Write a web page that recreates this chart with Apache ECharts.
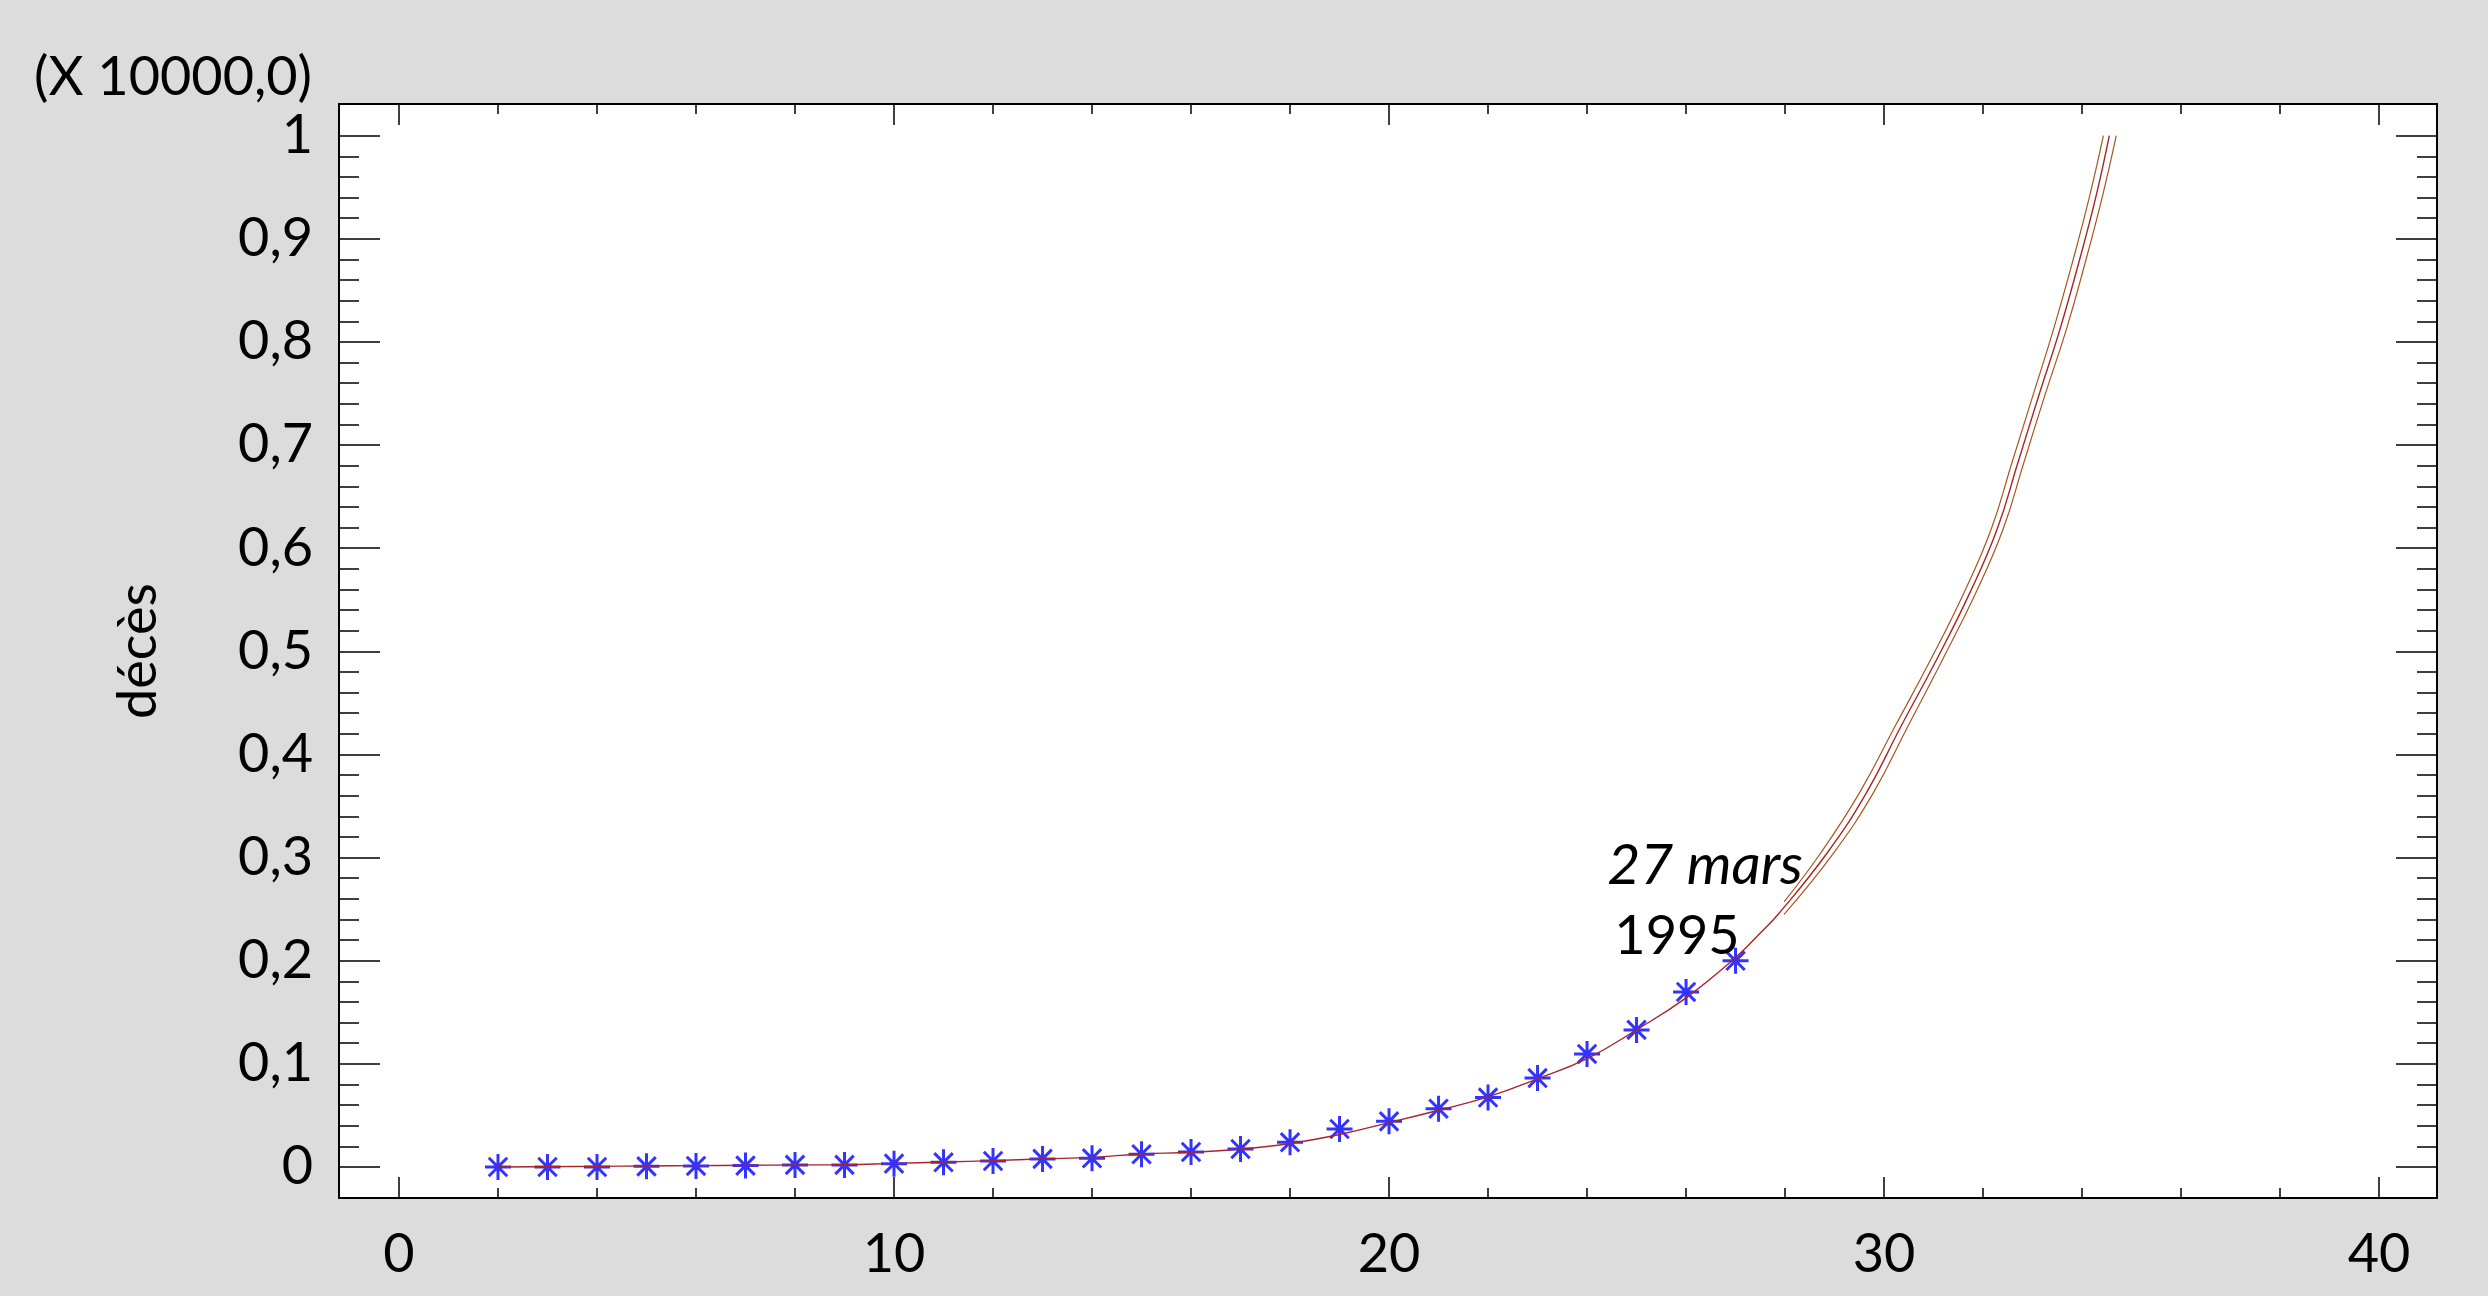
<!DOCTYPE html>
<html>
<head>
<meta charset="utf-8">
<title>décès</title>
<script src="https://cdn.jsdelivr.net/npm/echarts@6.0.0/dist/echarts.min.js"></script>
<style>
  html, body { margin: 0; padding: 0; background: #dcdcdc; }
  #chart { width: 2488px; height: 1296px; }
</style>
</head>
<body>
<div id="chart"></div>
<script>
// observed points (jours, décès x 10000)
const days = [2, 3, 4, 5, 6, 7, 8, 9, 10, 11, 12, 13, 14, 15, 16, 17, 18, 19, 20, 21, 22, 23, 24, 25, 26, 27]
const deaths = [0, 0, 0, 0.0006, 0.001, 0.0013, 0.002, 0.002, 0.0032, 0.0045, 0.0058, 0.0078, 0.0084, 0.0123,
  0.0145, 0.0174, 0.0239, 0.0368, 0.0442, 0.0565, 0.0673, 0.0862, 0.1096, 0.1329, 0.1697, 0.1999]

// fitted curve
const fitX = [2, 3, 4, 5, 6, 7, 8, 9, 10, 11, 12, 13, 14, 15, 16, 17, 18, 19, 20, 21, 22, 23, 24, 25, 26, 27,
  27.5, 27.87, 28.85, 29.64, 30.34, 31.06, 31.73, 32.28, 32.7, 33.12, 33.55, 33.93, 34.28, 34.55]
const fitY = [0, 0.0003, 0.0006, 0.001, 0.0013, 0.0016, 0.0019, 0.0022, 0.0035, 0.0048, 0.0061, 0.0078, 0.0093,
  0.0126, 0.0142, 0.0174, 0.0228, 0.0315, 0.043, 0.055, 0.068, 0.0855, 0.105, 0.133, 0.164, 0.203,
  0.2268, 0.2455, 0.3044, 0.3625, 0.4271, 0.4918, 0.5564, 0.6178, 0.6824, 0.747, 0.8117, 0.8763, 0.9409, 1.0]

// forecast limits
const upperX = [27.98, 28.72, 29.5, 30.22, 30.94, 31.61, 32.16, 32.58, 33.0, 33.42, 33.8, 34.15, 34.43]
const upperY = [0.257, 0.3044, 0.3625, 0.4271, 0.4918, 0.5564, 0.6178, 0.6824, 0.747, 0.8117, 0.8763, 0.9409, 1.0]
const lowerX = [27.98, 28.98, 29.78, 30.48, 31.18, 31.85, 32.4, 32.82, 33.24, 33.68, 34.06, 34.41, 34.69]
const lowerY = [0.245, 0.3044, 0.3625, 0.4271, 0.4918, 0.5564, 0.6178, 0.6824, 0.747, 0.8117, 0.8763, 0.9409, 1.0]

// axis ticks
const xTicks = [0, 10, 20, 30, 40]
const yTicks = [0, 0.1, 0.2, 0.3, 0.4, 0.5, 0.6, 0.7, 0.8, 0.9, 1]

const xMin = -1.212
const xMax = 41.17
const yMin = -0.0301
const yMax = 1.0307

const xMinor = []
for (let i = 1; i <= 20; i++) {
  if (i % 5 !== 0) xMinor.push(i * 2)
}
const yMinor = []
for (let i = 1; i < 50; i++) {
  if (i % 5 !== 0) yMinor.push(Math.round(i * 2) / 100)
}

const pairs = (xs, ys) => xs.map((x, i) => [x, ys[i]])

const font = 'Lato, "Open Sans", sans-serif'
const star = 'path://M10 0V20M0 10H20M2.9 2.9L17.1 17.1M2.9 17.1L17.1 2.9'

function xAxisDef (position, ticks, len, labels) {
  return {
    type: 'value',
    position: position,
    min: xMin,
    max: xMax,
    axisLine: { show: false, onZero: false },
    splitLine: { show: false },
    axisTick: {
      show: true,
      inside: true,
      length: len,
      customValues: ticks,
      lineStyle: { color: '#000', width: 1.5 }
    },
    axisLabel: labels ? {
      show: true,
      customValues: xTicks,
      margin: 30,
      color: '#000',
      fontFamily: font,
      fontSize: 54
    } : { show: false }
  }
}

function yAxisDef (position, ticks, len, labels) {
  return {
    type: 'value',
    position: position,
    min: yMin,
    max: yMax,
    axisLine: { show: false, onZero: false },
    splitLine: { show: false },
    axisTick: {
      show: true,
      inside: true,
      length: len,
      customValues: ticks,
      lineStyle: { color: '#000', width: 1.5 }
    },
    axisLabel: labels ? {
      show: true,
      customValues: yTicks,
      margin: 26,
      color: '#000',
      fontFamily: font,
      fontSize: 54,
      formatter: v => String(v).replace('.', ',')
    } : { show: false }
  }
}

const chart = echarts.init(document.getElementById('chart'), null, { renderer: 'canvas' })

chart.setOption({
  backgroundColor: '#dcdcdc',
  animation: false,
  grid: {
    left: 339,
    top: 104,
    right: 51,
    bottom: 98,
    show: true,
    backgroundColor: '#fff',
    borderColor: '#000',
    borderWidth: 2,
    containLabel: false,
    outerBoundsMode: 'none'
  },
  xAxis: [
    xAxisDef('bottom', xTicks, 21, true),
    xAxisDef('bottom', xMinor, 10, false),
    xAxisDef('top', xTicks, 21, false),
    xAxisDef('top', xMinor, 10, false)
  ],
  yAxis: [
    yAxisDef('left', yTicks, 41, true),
    yAxisDef('left', yMinor, 20, false),
    yAxisDef('right', yTicks, 41, false),
    yAxisDef('right', yMinor, 20, false)
  ],
  graphic: [
    {
      type: 'text',
      x: 173,
      y: 78,
      style: { text: '(X 10000,0)', fill: '#000', font: '54px ' + font, textAlign: 'center', textVerticalAlign: 'middle' }
    },
    {
      type: 'text',
      x: 139,
      y: 651,
      rotation: Math.PI / 2,
      style: { text: 'décès', fill: '#000', font: '54px ' + font, textAlign: 'center', textVerticalAlign: 'middle' }
    },
    {
      type: 'text',
      x: 1705,
      y: 866,
      z: 10,
      style: { text: '27 mars', fill: '#000', font: 'italic 57px ' + font, textAlign: 'center', textVerticalAlign: 'middle' }
    },
    {
      type: 'text',
      x: 1677,
      y: 937,
      z: 10,
      style: { text: '1995', fill: '#000', font: '54px ' + font, textAlign: 'center', textVerticalAlign: 'middle' }
    }
  ],
  series: [
    {
      name: 'décès',
      type: 'scatter',
      data: pairs(days, deaths),
      symbol: star,
      symbolSize: 26,
      itemStyle: { color: '#0000ff', borderColor: '#0000ff', borderWidth: 3 }
    },
    {
      name: 'fit',
      type: 'line',
      data: pairs(fitX, fitY),
      showSymbol: false,
      smooth: 0.45,
      lineStyle: { color: '#a82428', width: 1.4 }
    },
    {
      name: 'upper',
      type: 'line',
      data: pairs(upperX, upperY),
      showSymbol: false,
      smooth: 0.45,
      lineStyle: { color: '#a8561e', width: 1.2 }
    },
    {
      name: 'lower',
      type: 'line',
      data: pairs(lowerX, lowerY),
      showSymbol: false,
      smooth: 0.45,
      lineStyle: { color: '#a8561e', width: 1.2 }
    }
  ]
})
</script>
</body>
</html>
